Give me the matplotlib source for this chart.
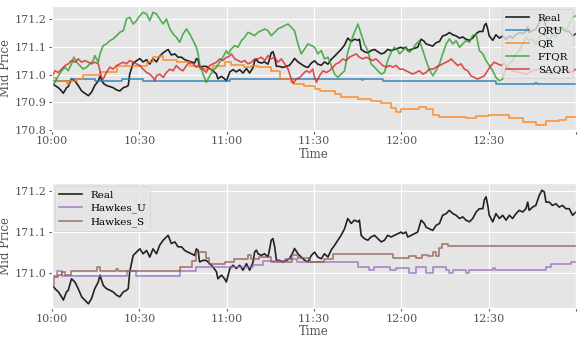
import matplotlib

matplotlib.use("Agg")
import matplotlib.pyplot as plt

# time in minutes after 10:00
tick_pos = [0, 30, 60, 90, 120, 150, 180]
tick_lab = ["10:00", "10:30", "11:00", "11:30", "12:00", "12:30", ""]

real_t = [0.2, 1.0, 2.2, 3.3, 3.9, 5.0, 5.6, 6.7, 7.9, 9.0, 10.2, 11.3, 12.5, 13.6,
          14.7, 15.9, 16.5, 17.6, 18.7, 19.9, 21.0, 22.2, 23.3, 24.5, 25.6, 26.2,
          26.7, 27.9, 29.0, 30.2, 31.3, 32.5, 33.6, 34.7, 35.9, 37.0, 38.2, 39.9,
          41.0, 42.2, 43.3, 44.5, 45.6, 46.7, 47.9, 49.0, 49.6, 50.2, 50.7, 51.9,
          53.0, 54.2, 55.3, 56.5, 57.0, 58.2, 59.3, 59.9, 61.1, 62.2, 63.3, 64.5,
          65.6, 66.8, 67.9, 69.1, 69.6, 70.2, 70.8, 71.9, 73.0, 74.2, 74.8, 75.3,
          75.9, 76.5, 77.1, 78.2, 79.3, 80.5, 81.6, 82.8, 83.3, 84.5, 85.6, 86.8,
          87.9, 89.1, 90.2, 91.3, 92.5, 93.6, 94.8, 95.9, 97.1, 98.2, 99.3, 100.5,
          101.6, 102.8, 103.9, 105.1, 105.6, 106.2, 107.3, 108.5, 109.6, 110.8,
          111.9, 113.1, 114.2, 115.3, 116.5, 117.6, 118.8, 119.9, 120.5, 121.6,
          122.2, 123.4, 124.5, 125.6, 126.8, 127.9, 128.5, 129.6, 130.8, 131.9,
          133.1, 134.2, 135.4, 136.5, 137.7, 138.8, 140.0, 141.1, 142.2, 143.4,
          144.5, 145.7, 146.8, 148.0, 148.5, 149.1, 149.7, 150.2, 151.4, 152.5,
          153.7, 154.8, 156.0, 157.1, 158.2, 159.4, 160.5, 161.7, 162.8, 163.4,
          163.9, 165.1, 166.2, 167.4, 168.3, 169.1, 169.7, 170.8, 171.9, 173.1,
          174.2, 175.4, 176.5, 177.7, 178.8, 180.0]
real_v = [170.969, 170.961, 170.953, 170.941, 170.933, 170.953, 170.957, 170.985,
          170.977, 170.961, 170.941, 170.933, 170.924, 170.937, 170.961, 170.977,
          170.994, 170.969, 170.961, 170.957, 170.953, 170.945, 170.941, 170.953,
          170.957, 170.961, 171.002, 171.042, 171.050, 171.058, 171.046, 171.054,
          171.038, 171.058, 171.046, 171.067, 171.079, 171.091, 171.071, 171.075,
          171.063, 171.063, 171.054, 171.050, 171.046, 171.042, 171.058, 171.054,
          171.026, 171.030, 171.030, 171.022, 171.014, 171.002, 170.985, 170.994,
          170.985, 170.977, 171.010, 171.018, 171.010, 171.018, 171.006, 171.022,
          171.006, 171.026, 171.050, 171.055, 171.046, 171.042, 171.046, 171.038,
          171.059, 171.079, 171.083, 171.063, 171.030, 171.030, 171.026, 171.030,
          171.034, 171.050, 171.059, 171.046, 171.038, 171.030, 171.026, 171.042,
          171.050, 171.038, 171.034, 171.046, 171.038, 171.055, 171.067, 171.079,
          171.091, 171.107, 171.132, 171.120, 171.128, 171.124, 171.128, 171.091,
          171.083, 171.079, 171.087, 171.091, 171.083, 171.075, 171.079, 171.091,
          171.087, 171.091, 171.095, 171.099, 171.095, 171.099, 171.087, 171.091,
          171.095, 171.099, 171.128, 171.120, 171.111, 171.107, 171.103, 171.115,
          171.120, 171.140, 171.144, 171.152, 171.144, 171.140, 171.132, 171.136,
          171.128, 171.124, 171.132, 171.148, 171.156, 171.156, 171.177, 171.185,
          171.164, 171.140, 171.124, 171.144, 171.132, 171.140, 171.128, 171.140,
          171.132, 171.144, 171.152, 171.148, 171.156, 171.172, 171.152, 171.160,
          171.164, 171.189, 171.201, 171.197, 171.172, 171.172, 171.164, 171.168,
          171.160, 171.164, 171.156, 171.156, 171.140, 171.148]

qru_t = [0, 6.7, 14.7, 23.9, 31.3, 61, 106.4, 106.9, 113.6, 152.5, 166, 166.5, 180]
qru_v = [170.977, 170.985, 170.977, 170.985, 170.977, 170.985, 170.982, 170.985,
         170.977, 170.966, 170.969, 170.966, 170.966]

qr_t = [0, 1.5, 5, 6, 8.5, 10.7, 16.5, 22.2, 32.5, 34.8, 37, 38.2, 42.8, 47.3, 50.8,
        55.3, 59.3, 61.6, 66, 68.5, 70.7, 75.3, 78.2, 82.2, 83.3, 86.7, 90.2, 91.9,
        97.1, 99.4, 105, 109.6, 113, 116.5, 118.2, 120, 126.2, 128.5, 130.8, 133.1,
        142.2, 145.7, 150.2, 157.1, 161.7, 166.2, 169.7, 174.2, 176.5, 180]
qr_v = [170.988, 170.978, 170.966, 170.978, 170.984, 171.000, 171.008, 171.030,
        171.045, 171.063, 171.069, 171.053, 171.045, 171.033, 171.020, 171.030,
        171.045, 171.035, 171.027, 171.032, 171.027, 171.014, 170.984, 170.972,
        170.966, 170.960, 170.948, 170.940, 170.930, 170.920, 170.912, 170.906,
        170.896, 170.880, 170.867, 170.875, 170.884, 170.875, 170.855, 170.846,
        170.843, 170.849, 170.855, 170.843, 170.830, 170.818, 170.834, 170.838,
        170.846, 170.846]

ftqr_t = [0.2, 1.0, 2.2, 3.3, 4.5, 5.6, 6.7, 7.5, 8.5, 9.6, 10.7, 11.9, 13.0, 14.2,
          14.7, 15.9, 16.5, 17.6, 18.7, 19.9, 21.0, 22.2, 23.3, 24.5, 25.6, 26.7,
          27.9, 29.0, 30.2, 31.3, 32.5, 33.6, 34.7, 35.9, 37.0, 38.2, 39.3, 40.5,
          41.6, 42.7, 43.9, 45.0, 46.2, 47.3, 48.5, 49.6, 50.2, 50.7, 51.9, 53.0,
          54.2, 55.3, 56.5, 57.6, 58.7, 59.9, 60.5, 61.6, 62.8, 63.9, 65.1, 66.2,
          67.3, 68.5, 69.6, 70.8, 71.9, 73.1, 74.2, 75.3, 76.5, 77.6, 78.8, 79.9,
          81.1, 82.2, 83.3, 83.9, 84.5, 85.6, 86.8, 87.9, 89.1, 90.2, 91.3, 92.5,
          93.6, 94.8, 95.9, 97.1, 98.2, 99.3, 100.5, 101.6, 102.8, 103.9, 105.1,
          106.2, 107.3, 108.5, 109.6, 110.8, 111.9, 113.1, 114.2, 115.3, 116.5,
          117.6, 118.8, 119.4, 120.5, 121.6, 122.8, 123.9, 125.1, 126.2, 127.4,
          128.5, 129.6, 130.8, 131.9, 133.1, 134.2, 135.4, 136.5, 137.7, 138.8,
          140.0, 141.1, 142.2, 143.4, 144.5, 145.7, 146.8, 148.0, 149.1, 150.2,
          151.4, 152.5, 153.7, 154.8, 156.0, 157.1, 158.2, 159.4, 160.5, 161.7,
          162.8, 163.9, 165.1, 166.2, 167.4, 168.5, 169.7, 170.8, 171.9, 173.1,
          174.2, 175.4, 176.5, 177.7, 178.8, 180.0]
ftqr_v = [170.960, 170.972, 170.996, 171.014, 171.027, 171.014, 171.039, 171.063,
          171.045, 171.033, 171.020, 171.027, 171.039, 171.051, 171.069, 171.045,
          171.075, 171.105, 171.111, 171.123, 171.129, 171.141, 171.153, 171.159,
          171.201, 171.207, 171.183, 171.195, 171.213, 171.225, 171.219, 171.195,
          171.225, 171.219, 171.201, 171.183, 171.201, 171.165, 171.147, 171.135,
          171.117, 171.147, 171.165, 171.147, 171.123, 171.099, 171.075, 171.039,
          171.002, 170.972, 170.996, 171.014, 171.027, 171.045, 171.063, 171.087,
          171.075, 171.093, 171.105, 171.099, 171.123, 171.135, 171.153, 171.147,
          171.141, 171.153, 171.159, 171.165, 171.159, 171.141, 171.153, 171.165,
          171.171, 171.177, 171.183, 171.171, 171.159, 171.135, 171.111, 171.075,
          171.093, 171.111, 171.105, 171.099, 171.075, 171.087, 171.057, 171.063,
          171.033, 171.002, 170.990, 171.002, 171.014, 171.081, 171.123, 171.153,
          171.183, 171.147, 171.111, 171.087, 171.039, 171.027, 171.014, 171.002,
          171.008, 171.051, 171.081, 171.099, 171.087, 171.075, 171.087, 171.099,
          171.081, 171.093, 171.111, 171.123, 171.087, 171.051, 171.020, 170.996,
          171.014, 171.039, 171.075, 171.111, 171.129, 171.111, 171.123, 171.099,
          171.111, 171.123, 171.117, 171.141, 171.147, 171.087, 171.075, 171.051,
          171.033, 171.014, 170.990, 170.978, 170.984, 171.027, 171.039, 171.051,
          171.075, 171.087, 171.111, 171.135, 171.123, 171.129, 171.111, 171.135,
          171.147, 171.141, 171.123, 171.147, 171.135, 171.159, 171.171, 171.159,
          171.183, 171.207, 171.213]

saqr_t = [0.2, 1.0, 2.2, 3.3, 4.5, 5.6, 6.7, 7.9, 9.0, 10.2, 11.3, 12.5, 13.6, 14.7,
          15.9, 16.5, 17.0, 17.6, 18.7, 19.9, 21.0, 22.2, 23.3, 24.5, 25.6, 26.7,
          27.9, 29.0, 30.2, 31.3, 32.5, 33.6, 34.7, 35.3, 35.9, 37.0, 38.2, 39.3,
          40.5, 41.6, 42.7, 43.9, 45.0, 46.2, 47.3, 48.5, 49.6, 50.7, 51.9, 53.0,
          54.2, 55.3, 56.5, 57.6, 58.7, 59.9, 60.5, 61.6, 62.8, 63.9, 65.1, 66.2,
          67.3, 68.5, 69.6, 70.8, 71.9, 73.1, 74.2, 75.3, 76.5, 77.6, 78.8, 79.9,
          81.1, 82.2, 82.8, 83.9, 85.1, 86.2, 87.3, 88.5, 89.6, 90.2, 90.8, 91.9,
          93.1, 94.2, 95.3, 96.5, 97.6, 98.8, 99.9, 101.1, 102.2, 103.3, 104.5,
          105.6, 106.8, 107.9, 109.1, 110.2, 111.3, 112.5, 113.6, 114.8, 115.9,
          117.1, 118.2, 119.4, 120.5, 121.6, 122.8, 123.9, 125.1, 126.2, 127.4,
          128.5, 129.6, 130.8, 131.9, 133.1, 134.2, 135.4, 136.5, 137.1, 138.2,
          139.4, 140.5, 141.7, 142.8, 143.9, 145.1, 146.2, 147.4, 148.5, 149.6,
          150.8, 151.9, 153.1, 154.2, 155.4, 156.5, 158.2, 160.5, 162.8, 165.1,
          167.4, 169.7, 171.9, 174.2, 176.5, 178.2, 180.0]
saqr_v = [170.996, 171.014, 171.008, 171.020, 171.033, 171.039, 171.051, 171.045,
          171.057, 171.045, 171.051, 171.045, 171.039, 171.045, 171.039, 171.014,
          170.990, 170.984, 171.008, 171.027, 171.020, 171.033, 171.039, 171.045,
          171.039, 171.051, 171.045, 171.039, 171.033, 171.020, 171.008, 171.002,
          170.990, 170.978, 170.996, 171.002, 170.990, 171.008, 171.020, 171.014,
          171.033, 171.020, 171.014, 171.033, 171.045, 171.039, 171.027, 171.033,
          171.020, 171.008, 171.033, 171.039, 171.045, 171.057, 171.051, 171.063,
          171.063, 171.075, 171.057, 171.051, 171.045, 171.051, 171.039, 171.045,
          171.057, 171.057, 171.063, 171.051, 171.069, 171.057, 171.063, 171.045,
          171.057, 171.039, 171.020, 170.984, 170.969, 170.984, 170.990, 171.002,
          171.014, 171.008, 171.020, 170.990, 170.972, 170.996, 171.014, 171.008,
          171.014, 171.027, 171.039, 171.045, 171.057, 171.051, 171.063, 171.069,
          171.075, 171.063, 171.057, 171.063, 171.057, 171.051, 171.057, 171.045,
          171.033, 171.027, 171.033, 171.027, 171.033, 171.020, 171.020, 171.014,
          171.008, 171.002, 171.008, 171.014, 171.002, 171.008, 171.020, 171.020,
          171.027, 171.033, 171.039, 171.045, 171.051, 171.057, 171.045, 171.033,
          171.039, 171.020, 171.014, 170.996, 170.990, 170.984, 170.990, 170.996,
          171.014, 171.033, 171.045, 171.039, 171.033, 171.039, 171.027, 171.014,
          171.008, 171.002, 171.014, 171.020, 171.008, 171.002, 171.014, 171.020,
          171.008, 171.020]

hu_t = [0, 1.8, 3.6, 25.8, 29, 44, 49.6, 69, 72.5, 80, 84, 105, 109, 110.5, 116, 118,
        122.8, 125.1, 128.5, 130.8, 135.4, 136.5, 137.7, 142.2, 143.4, 151.5, 152.3,
        169.7, 171.4, 178.2, 180]
hu_v = [170.993, 171.005, 170.993, 171.004, 170.993, 171.004, 171.014, 171.018,
        171.028, 171.034, 171.026, 171.014, 171.007, 171.014, 171.007, 171.012,
        170.998, 171.014, 170.998, 171.014, 171.006, 170.998, 171.006, 170.998,
        171.006, 171.012, 171.006, 171.014, 171.022, 171.026, 171.026]

hs_t = [0, 0.7, 2, 3.5, 4.5, 6.5, 15.3, 16.5, 22, 22.8, 44, 48, 49.5, 53, 54, 59.5,
        62.5, 67.3, 68.5, 71, 75.3, 82.5, 84.5, 88.5, 93.6, 96.5, 117, 122.8, 125,
        127, 129, 131, 132, 133, 134, 136, 180]
hs_v = [170.970, 170.990, 170.995, 171.002, 170.995, 171.004, 171.013, 171.004,
        171.010, 171.004, 171.013, 171.028, 171.051, 171.035, 171.020, 171.026,
        171.034, 171.044, 171.034, 171.038, 171.026, 171.044, 171.036, 171.026,
        171.034, 171.046, 171.036, 171.040, 171.036, 171.044, 171.040, 171.050,
        171.040, 171.060, 171.071, 171.065, 171.065]

plt.style.use("ggplot")
plt.rcParams["font.family"] = ["DejaVu Serif"]

fig = plt.figure(figsize=(5.82, 3.44), dpi=100)
ax1 = fig.add_axes([0.0893, 0.6203, 0.9004, 0.3623])
ax2 = fig.add_axes([0.0893, 0.1038, 0.9004, 0.3634])

lw = 1.2
ax1.plot(real_t, real_v, color="#222222", lw=lw, label="Real")
ax1.plot(qru_t, qru_v, color="#1f77b4", lw=lw, alpha=0.8, drawstyle="steps-post", label="QRU")
ax1.plot(qr_t, qr_v, color="#ff7f0e", lw=lw, alpha=0.8, drawstyle="steps-post", label="QR")
ax1.plot(ftqr_t, ftqr_v, color="#2ca02c", lw=lw, alpha=0.8, label="FTQR")
ax1.plot(saqr_t, saqr_v, color="#d62728", lw=lw, alpha=0.8, label="SAQR")
ax1.set_ylim(170.798, 171.248)
ax1.set_yticks([170.8, 170.9, 171.0, 171.1, 171.2])
ax1.legend(loc="upper right", fontsize=7.5, borderaxespad=0.3, handlelength=2.2,
           labelspacing=0.35)

ax2.plot(real_t, real_v, color="#222222", lw=lw, label="Real")
ax2.plot(hu_t, hu_v, color="#9467bd", lw=lw, alpha=0.75, drawstyle="steps-post", label="Hawkes_U")
ax2.plot(hs_t, hs_v, color="#8c564b", lw=lw, alpha=0.75, drawstyle="steps-post", label="Hawkes_S")
ax2.set_ylim(170.913, 171.218)
ax2.set_yticks([171.0, 171.1, 171.2])
ax2.legend(loc="upper left", fontsize=7.5, borderaxespad=0.3, handlelength=2.2,
           labelspacing=0.35)

for ax in (ax1, ax2):
    ax.set_xlim(0, 180)
    ax.set_xticks(tick_pos)
    ax.set_xticklabels(tick_lab)
    ax.tick_params(labelsize=8, length=2.5, pad=1.5)
    ax.set_ylabel("Mid Price", fontsize=8.5, labelpad=2)
    ax.set_xlabel("Time", fontsize=8.5, labelpad=1)
    ax.yaxis.set_major_formatter(matplotlib.ticker.FormatStrFormatter("%.1f"))

fig.savefig("out.png", dpi=100)
